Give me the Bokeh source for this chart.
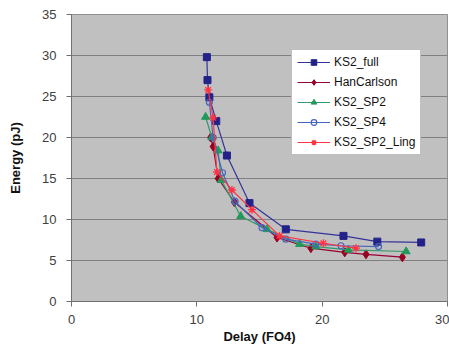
from bokeh.plotting import figure
from bokeh.models import Range1d, Legend, LegendItem, SingleIntervalTicker
from bokeh.embed import file_html
from bokeh.resources import INLINE

# Data
ks2_full_x = [10.8, 10.85, 11.0, 11.55, 12.4, 14.2, 17.1, 21.7, 24.4, 27.9]
ks2_full_y = [29.8, 27.0, 24.9, 22.0, 17.8, 12.0, 8.8, 8.0, 7.3, 7.2]

han_x = [11.1, 11.3, 11.7, 13.0, 16.4, 19.1, 21.8, 23.5, 26.4]
han_y = [20.0, 18.9, 15.0, 12.1, 7.8, 6.5, 6.0, 5.75, 5.4]

sp2_x = [10.7, 11.2, 11.7, 11.95, 13.5, 15.6, 18.2, 19.5, 22.1, 26.7]
sp2_y = [22.5, 20.0, 18.4, 14.8, 10.4, 8.8, 7.0, 6.7, 6.3, 6.1]

sp4_x = [11.0, 11.3, 12.05, 13.05, 15.2, 17.1, 19.5, 21.5, 24.5]
sp4_y = [24.3, 20.0, 15.7, 12.2, 9.0, 7.6, 7.0, 6.8, 6.7]

ling_x = [10.9, 11.3, 11.6, 12.8, 14.4, 16.6, 20.1, 22.7]
ling_y = [25.8, 22.4, 15.8, 13.6, 11.2, 8.0, 7.1, 6.5]

names = ["KS2_full", "HanCarlson", "KS2_SP2", "KS2_SP4", "KS2_SP2_Ling"]

FONT = "Liberation Sans"

p = figure(width=449, height=346, output_backend="svg", toolbar_location=None,
           x_range=Range1d(0, 30), y_range=Range1d(0, 35),
           min_border_left=71, min_border_right=2, min_border_top=14, min_border_bottom=44)
p.background_fill_color = "#C0C0C0"
p.border_fill_color = "white"
p.outline_line_color = "#909090"

p.xgrid.visible = False
p.ygrid.grid_line_color = "#808080"
p.ygrid.grid_line_width = 1

p.xaxis.ticker = SingleIntervalTicker(interval=10)
p.yaxis.ticker = SingleIntervalTicker(interval=5)
p.xaxis.minor_tick_line_color = None
p.yaxis.minor_tick_line_color = None
for ax in (p.xaxis, p.yaxis):
    ax.axis_line_color = "#707070"
    ax.major_tick_line_color = "#707070"
    ax.major_tick_in = 0
    ax.major_tick_out = 5
    ax.major_label_text_font = FONT
    ax.major_label_text_font_size = "13px"
    ax.major_label_text_color = "#404040"
    ax.axis_label_text_font = FONT
    ax.axis_label_text_font_size = "13px"
    ax.axis_label_text_font_style = "bold"
    ax.axis_label_text_color = "#111111"

p.xaxis.axis_label = "Delay (FO4)"
p.yaxis.axis_label = "Energy (pJ)"
p.yaxis.major_label_standoff = 10
p.yaxis.axis_label_standoff = 16
p.xaxis.major_label_standoff = 8
p.xaxis.axis_label_standoff = 2

items = []

r1 = p.line(ks2_full_x, ks2_full_y, line_color="#333399", line_width=1.2)
m1 = p.scatter(ks2_full_x, ks2_full_y, marker="square", size=7,
               fill_color="#222288", line_color="#222288")
items.append(LegendItem(label=names[0], renderers=[r1, m1]))

r2 = p.line(han_x, han_y, line_color="#990033", line_width=1.2)
m2 = p.scatter(han_x, han_y, marker="diamond", size=9,
               fill_color="#990022", line_color="#990022")
items.append(LegendItem(label=names[1], renderers=[r2, m2]))

r3 = p.line(sp2_x, sp2_y, line_color="#339966", line_width=1.2)
m3 = p.scatter(sp2_x, sp2_y, marker="triangle", size=8,
               fill_color="#22995A", line_color="#22995A")
items.append(LegendItem(label=names[2], renderers=[r3, m3]))

r4 = p.line(sp4_x, sp4_y, line_color="#4466BB", line_width=1.2)
m4 = p.scatter(sp4_x, sp4_y, marker="circle", size=6,
               fill_color=None, line_color="#4466BB", line_width=1.2)
items.append(LegendItem(label=names[3], renderers=[r4, m4]))

r5 = p.line(ling_x, ling_y, line_color="#FF3344", line_width=1.2)
m5 = p.scatter(ling_x, ling_y, marker="asterisk", size=8,
               line_color="#FF3344", line_width=1.3)
items.append(LegendItem(label=names[4], renderers=[r5, m5]))

legend = Legend(items=items, location=(220, 146))
legend.label_text_font = FONT
legend.label_text_font_size = "12px"
legend.label_text_color = "#111111"
legend.glyph_width = 33
legend.glyph_height = 14
legend.label_height = 14
legend.spacing = 6
legend.padding = 5
legend.margin = 0
legend.label_standoff = 4
legend.border_line_color = "#808080"
legend.background_fill_color = "white"
legend.background_fill_alpha = 1.0
p.add_layout(legend, "center")

open("out.html", "w").write(file_html(p, INLINE))
